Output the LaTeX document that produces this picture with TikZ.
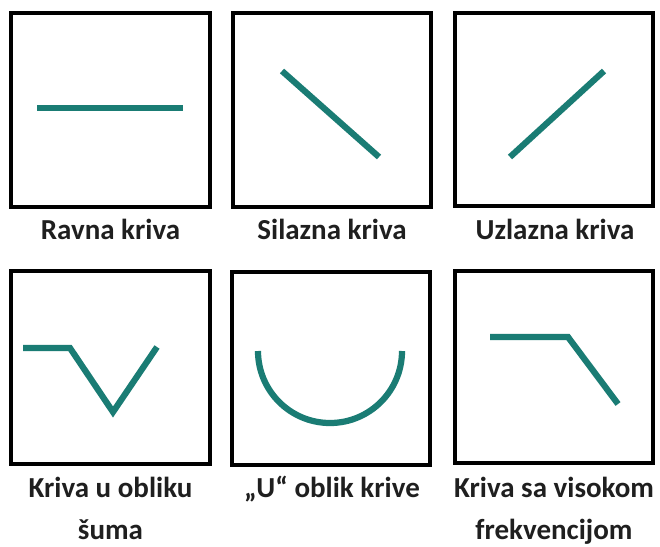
\documentclass[tikz,border=0pt]{standalone}
\usepackage{fontspec}
\setmainfont{Carlito}
\definecolor{curveteal}{RGB}{26,124,116}
\begin{document}
\begin{tikzpicture}[x=1pt,y=-1pt,
  frame/.style={draw=black,line width=3.2pt},
  curve/.style={draw=curveteal,line width=6.2pt,line cap=butt,line join=miter},
  lbl/.style={anchor=base,inner sep=0pt,font=\fontsize{29}{34}\selectfont\bfseries,text=black!88}]
\useasboundingbox[fill=white] (0,0) rectangle (660,546);
% frames
\draw[frame] (11,13) rectangle (210,207);
\draw[frame] (233,13) rectangle (431,207);
\draw[frame] (455,13) rectangle (653,206);
\draw[frame] (11,271) rectangle (210,464);
\draw[frame] (232,272) rectangle (430,465);
\draw[frame] (455,271) rectangle (653,463);
% curves
\draw[curve] (37,108) -- (183,108);
\draw[curve] (282,71) -- (379,157);
\draw[curve] (510,157) -- (604,71);
\draw[curve] (23,348) -- (70,348) -- (113,412) -- (157,347);
\draw[curve] (258,351) arc[start angle=180,end angle=0,radius=72];
\draw[curve] (490,337) -- (568,337) -- (618,404);
% labels
\node[lbl] (l1) at (110.5,239) {Ravna kriva};
\node[lbl] (l2) at (332,239) {Silazna kriva};
\node[lbl] (l3) at (555,239) {Uzlazna kriva};
\node[lbl] (l4) at (110.5,497) {Kriva u obliku};
\node[lbl] (l4b) at (110.5,539) {šuma};
\node[lbl] (l5) at (332,497) {„U“ oblik krive};
\node[lbl] (l6) at (554,497) {Kriva sa visokom};
\node[lbl] (l6b) at (554,539) {frekvencijom};
\end{tikzpicture}
\end{document}
